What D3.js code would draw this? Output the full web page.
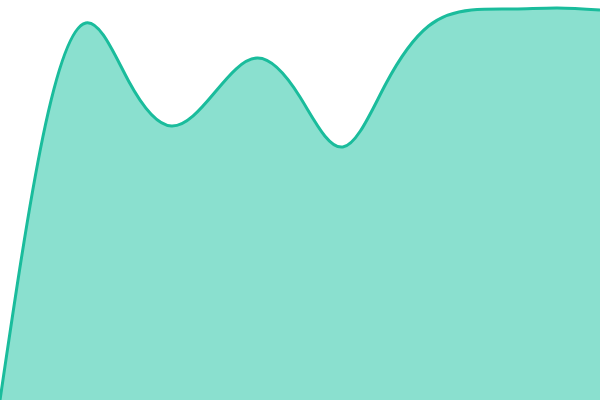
<!DOCTYPE html>
<html>
<head>
<meta charset="utf-8">
<script src="https://cdn.jsdelivr.net/npm/d3@7"></script>
<style>
  body { margin: 0; background: #fff; }
  svg { display: block; }
</style>
</head>
<body>
<svg id="chart"></svg>
<script>
// Set up dimensions
const width = 600;
const height = 400;

// Fifteen evenly spaced values
const labels = d3.range(15).map((i) => "p" + i);
const values = [0, 263, 377, 319, 274, 307, 342, 303, 253, 316, 374, 390, 391, 392, 390];

const svg = d3.select("#chart").attr("width", width).attr("height", height);

// Scales
const x = d3.scalePoint().domain(labels).range([0, width]);
const y = d3.scaleLinear().domain([0, 400]).range([height, 0]);

const area = d3
  .area()
  .x((d, i) => x(labels[i]))
  .y0(height)
  .y1((d) => y(d))
  .curve(d3.curveNatural);

const line = d3
  .line()
  .x((d, i) => x(labels[i]))
  .y((d) => y(d))
  .curve(d3.curveNatural);

svg
  .append("path")
  .datum(values)
  .attr("d", area)
  .attr("fill", "#8ae0cf");

svg
  .append("path")
  .datum(values)
  .attr("d", line)
  .attr("fill", "none")
  .attr("stroke", "#1abc9c")
  .attr("stroke-width", 3);
</script>
</body>
</html>
